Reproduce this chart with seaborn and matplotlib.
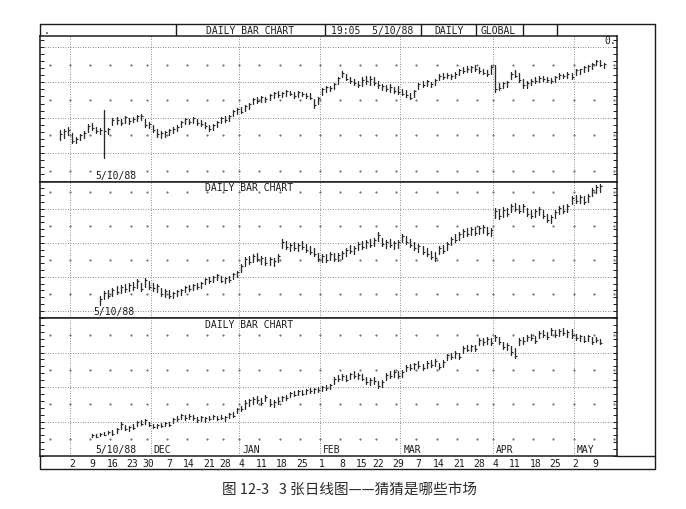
import numpy as np
import pandas as pd
import matplotlib
matplotlib.use("Agg")
import matplotlib.pyplot as plt
import seaborn as sns

# trading calendar (x axis categories)
holidays = ["1987-11-26", "1987-12-25", "1988-01-01", "1988-02-15", "1988-04-01"]
days = pd.bdate_range("1987-10-21", "1988-05-16")
days = days[~days.isin(pd.to_datetime(holidays))]

month_starts = ["1987-11-02", "1987-12-01", "1988-01-04", "1988-02-01",
                "1988-03-01", "1988-04-04", "1988-05-02"]
month_names = ["", "DEC", "JAN", "FEB", "MAR", "APR", "MAY"]
week_labels = pd.date_range("1987-11-02", "1988-05-09", freq="W-MON")
week_grid = pd.date_range("1987-10-26", "1988-05-16", freq="W-MON")

# panel 1 (top)
p1_start = "1987-10-28"
p1_hi = [16.5, 16.8, 17.3, 15.6, 14.5, 15.4, 16.2, 18.2, 18.5, 17.3,
         17.0, 22.1, 17.0, 19.9, 20.1, 19.6, 20.4, 19.9, 20.1, 20.7,
         21.0, 19.6, 18.7, 17.9, 16.8, 16.2, 16.2, 16.8, 17.3, 17.9,
         19.0, 19.9, 19.6, 20.1, 19.6, 19.3, 18.7, 17.9, 18.2, 19.0,
         20.1, 20.4, 20.7, 22.1, 22.7, 23.0, 23.5, 24.1, 25.5, 25.8,
         26.1, 25.8, 26.6, 27.2, 27.5, 27.2, 27.7, 27.5, 27.2, 27.5,
         27.2, 27.0, 26.9, 25.2, 25.8, 28.3, 28.9, 28.9, 29.7, 31.4,
         33.1, 32.3, 31.4, 30.8, 30.3, 31.4, 31.7, 31.7, 31.4, 30.3,
         29.4, 29.2, 29.4, 28.6, 28.9, 28.0, 27.7, 26.9, 27.7, 29.7,
         30.3, 30.6, 30.0, 30.8, 32.3, 32.5, 32.5, 32.3, 32.8, 33.7,
         34.2, 34.5, 34.5, 34.8, 34.2, 33.9, 33.4, 34.8, 34.8, 29.7,
         30.0, 30.3, 32.8, 33.4, 32.5, 30.8, 30.3, 30.8, 31.4, 31.7,
         31.7, 31.4, 31.1, 31.7, 32.5, 32.3, 32.8, 32.5, 33.7, 33.9,
         34.5, 34.8, 35.6, 36.4, 36.2, 35.6]
p1_lo = [13.7, 14.2, 15.1, 12.8, 12.8, 13.7, 14.2, 15.9, 16.5, 15.6,
         15.4, 8.6, 15.4, 17.9, 18.2, 17.9, 18.5, 18.2, 18.7, 19.0,
         19.3, 17.3, 17.0, 15.9, 14.5, 14.2, 14.5, 15.1, 15.6, 16.2,
         17.3, 18.2, 18.2, 18.5, 17.9, 17.6, 17.0, 16.2, 16.5, 17.3,
         18.5, 18.7, 19.0, 20.4, 21.0, 21.3, 21.8, 22.4, 23.8, 24.1,
         24.4, 24.4, 24.9, 25.5, 25.8, 25.8, 26.1, 26.3, 25.5, 25.8,
         26.1, 25.5, 25.2, 22.7, 23.8, 26.3, 27.2, 27.5, 28.0, 29.4,
         31.4, 30.6, 29.7, 29.2, 28.6, 28.9, 29.4, 29.2, 29.2, 28.3,
         27.7, 27.5, 27.2, 26.9, 26.6, 26.3, 25.8, 25.2, 25.8, 28.0,
         28.6, 28.9, 28.6, 29.2, 30.6, 30.8, 31.1, 30.8, 31.1, 32.0,
         32.5, 32.8, 32.8, 33.1, 32.5, 32.3, 31.7, 32.3, 27.2, 27.7,
         28.3, 28.6, 30.8, 31.4, 30.0, 28.3, 28.3, 29.2, 29.7, 30.0,
         30.3, 30.0, 29.7, 30.0, 30.8, 31.1, 31.1, 30.8, 32.0, 32.3,
         32.8, 33.1, 33.9, 34.8, 34.5, 34.0]
p1_cl = [15.4, 16.2, 16.5, 13.4, 13.9, 15.1, 15.6, 17.6, 17.0, 16.2,
         16.5, 16.2, 16.8, 19.3, 19.3, 18.5, 20.1, 19.0, 19.6, 20.4,
         20.4, 17.9, 18.2, 16.5, 15.4, 15.6, 15.9, 16.5, 16.8, 17.3,
         18.7, 19.6, 18.7, 19.9, 18.5, 18.2, 17.6, 16.8, 17.9, 18.7,
         19.9, 19.3, 20.4, 21.8, 22.4, 21.5, 23.2, 23.8, 25.2, 24.6,
         25.8, 25.2, 26.3, 26.9, 26.3, 26.9, 27.5, 26.6, 26.1, 27.2,
         26.6, 26.1, 25.5, 23.5, 25.5, 28.0, 28.6, 28.3, 29.4, 31.1,
         32.5, 30.8, 30.3, 29.7, 29.2, 30.6, 30.3, 30.8, 29.7, 29.2,
         28.9, 28.0, 28.6, 27.5, 27.2, 26.6, 26.3, 25.5, 27.5, 29.4,
         29.2, 30.3, 29.4, 30.6, 31.7, 31.4, 32.0, 31.7, 32.3, 33.4,
         33.1, 33.9, 34.2, 33.7, 33.1, 32.5, 32.3, 34.2, 28.0, 28.3,
         29.7, 30.0, 32.3, 31.7, 30.6, 29.2, 29.7, 30.3, 30.3, 31.1,
         30.8, 30.6, 30.3, 31.4, 32.0, 31.7, 32.3, 31.4, 33.4, 33.7,
         34.2, 34.5, 35.1, 35.9, 34.8, 35.1]

# panel 2 (middle)
p2_start = "1987-11-11"
p2_hi = [14.4, 15.9, 16.2, 16.8, 17.4, 17.7, 18.0, 18.3, 18.6, 19.4,
         18.3, 19.7, 18.8, 18.3, 18.0, 16.8, 16.5, 16.2, 15.6, 16.2,
         16.5, 17.4, 17.7, 18.0, 18.3, 18.5, 19.7, 20.0, 20.3, 20.9,
         20.3, 20.0, 20.3, 21.2, 21.8, 23.8, 25.9, 26.2, 26.8, 27.1,
         26.2, 25.9, 25.9, 25.6, 26.8, 31.2, 30.6, 30.0, 30.3, 30.0,
         30.6, 29.7, 29.1, 28.6, 27.1, 26.8, 26.8, 27.4, 27.1, 27.1,
         27.7, 28.6, 29.4, 29.1, 30.3, 30.6, 30.9, 31.2, 31.5, 33.3,
         31.5, 30.9, 31.2, 30.6, 30.9, 32.7, 32.1, 31.2, 30.3, 29.7,
         29.1, 28.6, 27.7, 27.4, 29.1, 29.4, 30.3, 31.8, 32.7, 33.3,
         34.2, 34.4, 34.7, 34.7, 35.0, 35.3, 34.7, 34.4, 40.3, 40.0,
         40.6, 40.3, 41.5, 41.8, 41.2, 41.5, 40.3, 39.7, 40.0, 40.6,
         39.7, 38.6, 38.3, 39.7, 40.9, 41.2, 41.5, 43.8, 44.1, 44.1,
         43.8, 44.4, 46.2, 47.1, 47.4]
p2_lo = [11.8, 13.5, 13.8, 14.4, 15.0, 15.3, 15.6, 15.9, 16.2, 16.8,
         15.9, 17.1, 16.5, 15.9, 15.6, 14.4, 14.1, 13.8, 13.8, 14.4,
         14.7, 15.6, 15.9, 16.2, 16.5, 16.8, 17.9, 18.2, 18.5, 19.1,
         18.5, 18.2, 18.5, 19.4, 20.0, 21.5, 23.2, 23.8, 24.4, 24.7,
         23.8, 23.5, 23.5, 23.2, 24.4, 28.5, 28.2, 27.6, 27.9, 27.6,
         28.2, 27.3, 26.7, 26.2, 24.7, 24.4, 24.4, 25.0, 24.7, 24.7,
         25.3, 26.2, 27.0, 26.7, 27.9, 28.2, 28.5, 28.8, 29.1, 30.6,
         29.1, 28.5, 28.8, 28.2, 28.5, 30.3, 29.7, 28.8, 27.9, 27.3,
         26.7, 26.2, 25.3, 24.7, 26.7, 27.0, 27.9, 29.4, 30.3, 30.9,
         31.8, 32.0, 32.3, 32.3, 32.6, 32.9, 32.3, 32.0, 37.4, 37.1,
         37.7, 37.9, 39.1, 39.4, 38.8, 39.1, 37.9, 37.3, 37.6, 38.2,
         37.3, 36.2, 35.9, 37.3, 38.5, 38.8, 39.1, 41.4, 41.7, 41.7,
         41.4, 42.0, 43.8, 44.7, 45.0]
p2_cl = [13.5, 15.3, 14.4, 16.2, 15.6, 17.1, 16.5, 17.7, 17.1, 18.8,
         16.5, 19.1, 17.1, 16.8, 17.4, 15.0, 15.9, 14.4, 15.3, 15.9,
         16.2, 17.1, 16.5, 17.7, 17.1, 18.2, 19.4, 18.8, 20.0, 20.6,
         18.8, 19.7, 19.1, 20.9, 21.5, 23.2, 25.3, 24.4, 26.2, 25.3,
         25.6, 24.1, 25.3, 24.7, 26.2, 30.3, 28.8, 29.4, 28.5, 29.4,
         28.8, 27.9, 27.3, 26.8, 25.3, 26.2, 25.0, 26.8, 25.3, 26.5,
         27.1, 28.0, 27.6, 28.5, 29.7, 28.8, 30.3, 29.4, 30.9, 32.4,
         29.7, 30.3, 29.4, 30.0, 30.3, 32.1, 30.3, 29.4, 28.5, 29.1,
         27.3, 26.8, 25.9, 25.6, 28.5, 27.6, 29.7, 31.2, 30.9, 32.7,
         33.6, 32.6, 34.1, 32.9, 34.4, 34.7, 32.9, 33.8, 39.4, 37.9,
         39.7, 38.5, 40.9, 40.0, 39.4, 40.9, 38.5, 37.9, 39.4, 40.0,
         37.9, 36.8, 37.7, 39.1, 40.3, 39.4, 40.9, 43.2, 42.3, 43.5,
         42.0, 43.8, 45.6, 46.5, 46.8]

# panel 3 (bottom)
p3_start = "1987-11-09"
p3_hi = [6.4, 6.4, 6.7, 7.0, 7.3, 7.4, 8.0, 9.8, 9.1, 8.8,
         9.4, 10.2, 10.3, 10.6, 10.0, 9.2, 9.4, 9.7, 10.0, 10.0,
         11.1, 11.7, 12.2, 12.0, 12.2, 12.0, 11.4, 11.7, 11.4, 11.5,
         11.8, 11.5, 11.8, 11.7, 12.5, 12.8, 14.0, 14.6, 16.1, 16.5,
         17.0, 17.3, 16.7, 17.6, 16.4, 16.1, 17.0, 17.4, 17.7, 18.6,
         18.9, 19.2, 19.1, 19.4, 19.7, 19.7, 20.0, 20.4, 20.7, 20.9,
         22.9, 23.4, 23.7, 23.4, 24.2, 24.5, 24.2, 23.7, 22.8, 22.5,
         22.8, 21.7, 22.0, 24.0, 24.5, 24.8, 24.5, 24.8, 26.3, 26.8,
         27.1, 27.4, 26.8, 27.4, 27.7, 28.0, 27.1, 27.7, 29.7, 30.0,
         30.3, 30.0, 31.8, 32.1, 32.3, 32.1, 34.1, 34.1, 34.4, 34.1,
         35.0, 34.4, 33.0, 32.7, 31.8, 31.2, 34.2, 34.4, 35.0, 35.5,
         34.8, 36.2, 36.4, 35.8, 37.0, 36.4, 36.7, 37.0, 36.4, 36.7,
         35.5, 35.2, 34.7, 35.2, 34.4, 34.6, 34.0]
p3_lo = [5.4, 5.4, 5.7, 6.0, 6.3, 6.2, 6.8, 7.8, 7.5, 7.2,
         7.8, 8.6, 9.1, 9.4, 8.8, 8.0, 8.2, 8.5, 8.8, 8.8,
         9.5, 10.1, 10.6, 10.4, 10.6, 10.4, 9.8, 10.1, 9.8, 10.3,
         10.6, 10.3, 10.6, 10.1, 10.9, 11.2, 12.4, 13.0, 13.7, 14.5,
         15.2, 15.5, 14.9, 15.8, 14.6, 14.3, 15.2, 16.0, 16.3, 17.0,
         17.3, 17.6, 17.7, 18.0, 18.3, 18.3, 18.6, 18.8, 19.1, 19.3,
         20.9, 21.6, 21.9, 21.6, 22.4, 22.7, 22.4, 21.9, 21.0, 20.7,
         21.0, 19.7, 20.0, 22.0, 22.7, 23.0, 22.7, 23.0, 24.5, 25.0,
         25.3, 25.6, 25.0, 25.6, 25.9, 26.2, 25.3, 25.9, 27.9, 28.2,
         28.5, 28.2, 30.0, 30.3, 30.5, 30.3, 32.3, 32.3, 32.6, 32.3,
         33.2, 32.6, 31.0, 30.7, 29.4, 28.4, 32.2, 32.6, 33.2, 33.7,
         32.8, 34.2, 34.6, 34.0, 35.2, 34.6, 34.9, 35.2, 34.6, 34.3,
         33.7, 33.4, 32.9, 33.4, 32.6, 33.0, 32.4]
p3_cl = [6.1, 5.6, 6.5, 6.2, 7.1, 6.5, 7.7, 9.4, 7.8, 8.5,
         8.1, 9.9, 9.4, 10.3, 9.1, 8.3, 9.1, 8.8, 9.7, 9.1,
         10.8, 10.6, 11.9, 10.9, 11.7, 10.9, 10.3, 11.2, 10.9, 10.6,
         11.5, 10.6, 10.9, 11.2, 12.2, 11.7, 13.7, 13.5, 15.5, 16.1,
         16.6, 16.1, 15.5, 17.2, 15.0, 15.7, 15.8, 17.1, 16.7, 18.3,
         17.8, 18.9, 18.1, 19.1, 18.7, 19.4, 19.0, 20.1, 19.6, 20.5,
         22.4, 22.2, 23.3, 22.0, 23.8, 23.3, 23.6, 22.4, 21.5, 22.1,
         21.6, 20.4, 21.5, 23.5, 23.3, 24.4, 23.3, 24.3, 25.9, 25.6,
         26.7, 26.2, 25.5, 27.0, 26.5, 27.6, 25.8, 27.3, 29.3, 28.7,
         29.8, 28.8, 31.4, 30.8, 31.9, 30.9, 33.7, 32.9, 34.0, 32.8,
         34.6, 33.1, 31.6, 32.2, 30.2, 29.1, 33.7, 33.2, 34.6, 34.3,
         33.4, 35.7, 35.2, 34.5, 36.6, 35.1, 36.3, 35.7, 36.0, 35.1,
         34.2, 34.8, 33.4, 34.7, 33.1, 33.5, 32.8]

INK = "#1c1c1c"
BAR = "#2a2a2a"
GRID = "#666666"
MONO = "DejaVu Sans Mono"

sns.set_theme(style="white")
plt.rcParams["font.family"] = [MONO, "DejaVu Sans"]
plt.rcParams["axes.edgecolor"] = INK
plt.rcParams["axes.linewidth"] = 1.1

W, H = 686, 509


def box(x0, y0, x1, y1):
    return [x0 / W, 1 - y1 / H, (x1 - x0) / W, (y1 - y0) / H]


fig = plt.figure(figsize=(W / 100, H / 100), dpi=100)

# frame + header drawn in figure pixel space
ov = fig.add_axes([0, 0, 1, 1])
ov.set_xlim(0, W)
ov.set_ylim(H, 0)
ov.axis("off")
kw = dict(color=INK, lw=1.0)
ov.plot([40, 655, 655, 40, 40], [24, 24, 469, 469, 24], **kw)
ov.plot([617, 655], [456, 456], **kw)
for xd in [176, 325, 421, 476, 523, 557]:
    ov.plot([xd, xd], [24, 36], **kw)
hdr = dict(fontsize=7, color=INK, va="center", ha="center")
ov.text(47, 30.5, ".", **hdr)
ov.text(250, 30.5, "DAILY BAR CHART", **hdr)
ov.text(372, 30.5, "19:05  5/10/88", **hdr)
ov.text(449, 30.5, "DAILY", **hdr)
ov.text(498, 30.5, "GLOBAL", **hdr)

fig.text(349 / W, 1 - 490 / H, "图 12-3   3 张日线图——猜猜是哪些市场",
         family=["Noto Sans CJK SC", "DejaVu Sans"], fontsize=10.5,
         color="#2a2a2a", ha="center", va="center")

month_pos = days.searchsorted(pd.to_datetime(month_starts))
week_pos = days.searchsorted(week_labels)
grid_pos = days.searchsorted(week_grid) - 0.5


def draw_panel(rect, start, hi, lo, cl, ylim):
    ax = fig.add_axes(rect)
    ax.set_facecolor("white")
    i0 = days.get_loc(pd.Timestamp(start))
    x = np.arange(i0, i0 + len(hi))
    bars = pd.DataFrame({"x": np.concatenate([x, x]),
                         "y": np.concatenate([lo, hi]),
                         "bar": np.concatenate([x, x])})
    # grid: dotted levels, month lines, weekly dot rows
    for g in range(10, 50, 10):
        if ylim[0] < g < ylim[1]:
            ax.axhline(g, ls=(0, (1, 2)), lw=0.6, color=GRID, zorder=0)
    for m in month_pos:
        ax.axvline(m - 0.5, ls=(0, (1, 2)), lw=0.6, color=GRID, zorder=0)
    rows = [r for r in range(5, 50, 10) if ylim[0] < r < ylim[1]]
    gx, gy = np.meshgrid(grid_pos, rows)
    ax.plot(gx.ravel(), gy.ravel(), ls="none", marker="s", ms=0.6,
            color="#777777", zorder=0)
    sns.lineplot(data=bars, x="x", y="y", units="bar", estimator=None,
                 color=BAR, linewidth=0.95, legend=False, ax=ax)
    ax.plot(x, cl, ls="none", marker=1, ms=1.7, mew=0.8, color=BAR)
    ax.set_xlim(0, 143.3)
    ax.set_yticks(np.arange(0, 50, 2))
    ax.set_ylim(*ylim)
    ax.set_xlabel("")
    ax.set_ylabel("")
    ax.set_xticks([])
    ax.tick_params(axis="y", direction="in", length=3, width=0.7,
                   left=True, right=True, labelleft=False, color=INK)
    return ax


ax1 = draw_panel(box(40, 36, 617, 182), p1_start, p1_hi, p1_lo, p1_cl, (1.8, 43.1))
ax2 = draw_panel(box(40, 182, 617, 318), p2_start, p2_hi, p2_lo, p2_cl, (7.9, 47.9))
ax3 = draw_panel(box(40, 318, 617, 456), p3_start, p3_hi, p3_lo, p3_cl, (0, 40))

lab = dict(fontsize=7, color=INK, va="center")
ax1.text(0.095, 0.042, "5/10/88", transform=ax1.transAxes, ha="left", **lab)
ax1.text(0.998, 0.965, "0.", transform=ax1.transAxes, ha="right", **lab)
ax2.text(0.286, 0.955, "DAILY BAR CHART", transform=ax2.transAxes, ha="left", **lab)
ax2.text(0.092, 0.045, "5/10/88", transform=ax2.transAxes, ha="left", **lab)
ax3.text(0.286, 0.95, "DAILY BAR CHART", transform=ax3.transAxes, ha="left", **lab)
ax3.text(0.095, 0.045, "5/10/88", transform=ax3.transAxes, ha="left", **lab)
for pos, name in zip(month_pos, month_names):
    if name:
        ax3.text(pos + 0.2, 0.045, name, transform=ax3.get_xaxis_transform(),
                 ha="left", **lab)

ax3.set_xticks(week_pos)
ax3.set_xticklabels([str(d.day) for d in week_labels], fontsize=7, color=INK)
ax3.tick_params(axis="x", length=0, pad=2.5, bottom=True)

fig.savefig("out.png", dpi=100)
